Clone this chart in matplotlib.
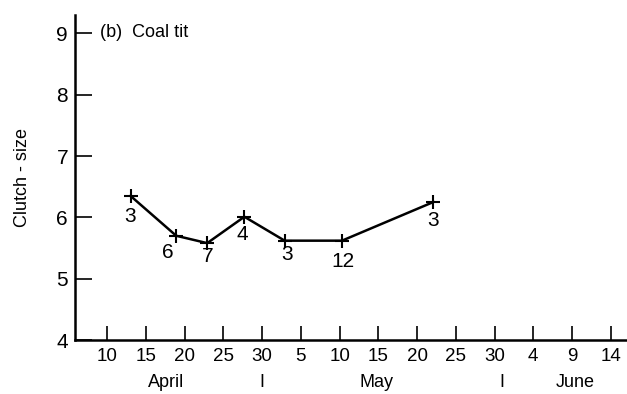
import matplotlib
matplotlib.use('Agg')
import matplotlib.pyplot as plt

plt.rcParams['font.family'] = ['Liberation Sans', 'DejaVu Sans']

# days counted from 1 April (1 May = 31, 1 June = 62)
days = [13.0, 18.9, 22.9, 27.7, 32.9, 40.3, 52.1]
clutch = [6.35, 5.70, 5.58, 6.01, 5.62, 5.62, 6.25]
n_nests = ['3', '6', '7', '4', '3', '12', '3']

tick_days = [10, 15, 20, 25, 30, 35, 40, 45, 50, 55, 60, 65, 70, 75]
tick_labels = ['10', '15', '20', '25', '30', '5', '10', '15', '20', '25', '30', '4', '9', '14']
month_names = ['April', 'I', 'May', 'I', 'June']
month_pos = [17.6, 30.0, 44.8, 60.9, 70.4]

fig = plt.figure(figsize=(6.27, 3.94), dpi=100)
ax = fig.add_axes([0.1196, 0.137, 0.8804, 0.825])

ax.plot(days, clutch, color='black', lw=1.8, marker='+', ms=10, mew=1.5)

# offsets for the sample size labels, in points
offsets = [(0, -15), (-6, -12), (0, -9.5), (-1.5, -13), (2, -10), (1, -15), (0, -13)]
for x, y, t, (dx, dy) in zip(days, clutch, n_nests, offsets):
    ax.annotate(t, (x, y), xytext=(dx, dy), textcoords='offset points',
                ha='center', va='center', fontsize=15)

ax.set_xlim(5.83, 77.1)
ax.set_ylim(4, 9.3)
ax.set_xticks(tick_days)
ax.set_xticklabels(tick_labels, fontsize=13.5)
ax.set_yticks([4, 5, 6, 7, 8, 9])
ax.set_yticklabels(['4', '5', '6', '7', '8', '9'], fontsize=15)
ax.tick_params(axis='x', direction='in', length=10, width=1.2, pad=6)
ax.tick_params(axis='y', direction='in', length=12, width=1.2, pad=5)

for side in ['top', 'right']:
    ax.spines[side].set_visible(False)
ax.spines['left'].set_linewidth(1.8)
ax.spines['bottom'].set_linewidth(1.8)

tr = ax.get_xaxis_transform()
for name, pos in zip(month_names, month_pos):
    ax.text(pos, -0.132, name, transform=tr, ha='center', va='center', fontsize=13)

ax.text(0.045, 0.945, '(b)  Coal tit', transform=ax.transAxes, fontsize=13,
        ha='left', va='center')
ax.set_ylabel('Clutch - size', fontsize=13, labelpad=18)

fig.savefig('out.png', dpi=100)
